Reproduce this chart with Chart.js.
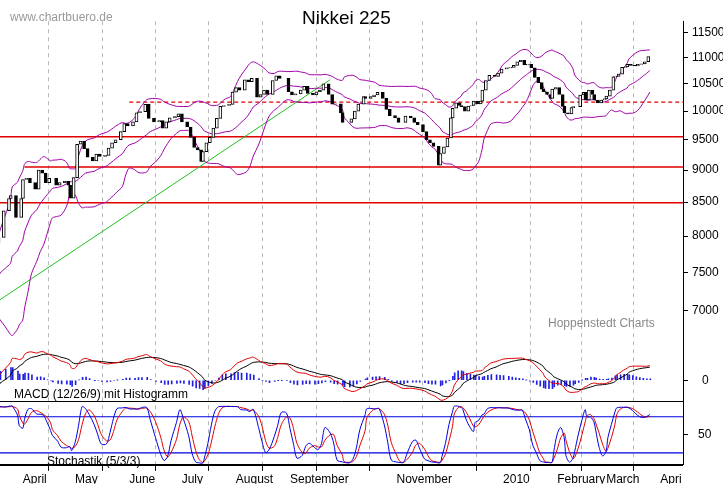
<!DOCTYPE html>
<html><head><meta charset="utf-8">
<script src="https://cdn.jsdelivr.net/npm/chart.js@4.4.1/dist/chart.umd.min.js"></script>
<style>
html,body{margin:0;background:#fff;}
#wrap{position:relative;width:723px;height:486px;}
.t{position:absolute;font-family:"Liberation Sans",Arial,sans-serif;white-space:nowrap;}
</style></head>
<body>
<div id="wrap">
<canvas id="c" width="723" height="486"></canvas>
<div class="t" style="left:10px;top:10px;font-size:12px;color:#9a9a9a">www.chartbuero.de</div>
<div class="t" style="left:302px;top:7px;font-size:19px;color:#000">Nikkei 225</div>
<div class="t" style="left:548px;top:316px;font-size:12px;color:#8a8a8a">Hoppenstedt Charts</div>
<div class="t" style="left:14px;top:387px;font-size:12px;color:#000">MACD (12/26/9) mit Histogramm</div>
<div class="t" style="left:47px;top:454px;font-size:12px;color:#000">Stochastik (5/3/3)</div>
</div>
<script>
// day numbers counted from 1 March 2009; negative = February warm-up
const days = [-26,-24,-21,-19,-17,-14,-12,-10,-7,-5,-3,0,2,4,6,8,9,11,12,15,16,17,
 18,21,24,25,28,29,31,32,34,36,39,41,43,45,47,48,51,53,56,58,59,61,63,65,67,69,72,74,76,79,81,83,85,88,90,92,95,97,99,
 102,104,107,110,112,114,116,119,121,123,126,128,130,132,134,135,137,139,141,143,145,147,150,152,154,156,159,161,163,166,
 168,170,172,175,177,179,182,184,186,188,191,193,195,198,200,202,204,207,209,211,214,215,218,220,222,
 224,227,228,231,233,235,238,240,242,245,247,249,251,254,256,258,261,263,265,267,270,271,273,275,277,278,280,282,283,285,
 287,289,290,292,294,295,297,299,302,304,306,309,311,313,315,317,319,321,323,325,327,329,330,332,334,335,337,339,341,342,
 344,346,347,349,351,353,354,356,358,359,361,363,365,366,368,370,371,373,375,377,378,380,382,384,386,388,390];
const closes = [7950,7900,7650,7750,7600,7550,7450,7550,7400,7450,7600,7280,7230,7430,7380,7090,7055,7200,7570,7700,7950,7900,
 7980,8370,8555,8600,8270,8270,8555,8850,8870,8800,8700,9000,8950,8800,8870,8870,8760,8800,8820,8760,8560,8880,9425,9480,9350,9210,9150,9260,9220,9240,9360,9450,9500,9640,9780,9740,9810,9970,9990,
 10120,9870,9810,9830,9700,9810,9880,9900,9950,9810,9720,9540,9370,9330,9140,9300,9450,9540,9700,9870,10085,10100,10120,10345,10430,10380,10575,10540,10600,10250,
 10300,10380,10300,10560,10650,10600,10600,10350,10290,10310,10380,10450,10320,10290,10350,10380,10500,10300,10125,10130,9970,9800,9800,9860,10000,
 10125,10260,10230,10260,10290,10340,10230,10030,9920,9880,9800,9800,9910,9880,9800,9760,9640,9500,9450,9390,9080,9270,9380,9530,9880,10050,10150,10100,10080,10000,
 10090,10100,10180,10130,10180,10380,10560,10660,10640,10700,10780,10800,10810,10850,10920,10950,10860,10870,10800,10620,10520,10400,10350,10300,10230,10400,10430,10300,10085,9970,
 9950,10060,10080,10080,10290,10340,10200,10380,10300,10200,10145,10200,10220,10270,10380,10630,10640,10680,10810,10820,10870,10850,10840,10870,10880,10920,11020];
const monthDays = [31,61,92,122,153,184,214,245,275,306,337,365,396];
const monthNames = ['April','May','June','July','August','September','','November','','2010','February','March','Apri'];
const priceTicks = [7000,7500,8000,8500,9000,9500,10000,10500,11000,11500];
const supportLevels = [9550,9050,8490];
const supportFrom = [18,32,18];
const resistanceLevel = 10160, resistanceFrom = 92;
const trendDays = [18,207], trendValues = [7140,10575];
const X0 = 18, X1 = 409;

// indicators computed from the closes (sample spacing ~ 1.4 trading days)
function sma(a,n,i){let s=0;for(let k=i-n+1;k<=i;k++)s+=a[k];return s/n;}
const bbN=14, upper=[], middle=[], lower=[];
closes.forEach((c,i)=>{
  if(i<bbN-1){upper.push(null);middle.push(null);lower.push(null);return;}
  const m=sma(closes,bbN,i);let v=0;for(let k=i-bbN+1;k<=i;k++)v+=(closes[k]-m)**2;
  const sd=Math.sqrt(v/bbN);middle.push(m);upper.push(m+2*sd);lower.push(m-2*sd);
});
function ema(a,n){const k=2/(n+1);const o=[];a.forEach((v,i)=>o.push(i?v*k+o[i-1]*(1-k):v));return o;}
const e12=ema(closes,9), e26=ema(closes,19);
const macd=closes.map((c,i)=>e12[i]-e26[i]);
const signal=ema(macd,7);
const hist=macd.map((m,i)=>m-signal[i]);
const kRaw=closes.map((c,i)=>{const s=closes.slice(Math.max(0,i-5),i+1);const lo=Math.min(...s)*0.998,hi=Math.max(...s)*1.002;return 100*(c-lo)/(hi-lo);});
const kS=kRaw.map((v,i)=>i>1?(v+kRaw[i-1]+kRaw[i-2])/3:v);
const dS=kS.map((v,i)=>i>1?(v+kS[i-1]+kS[i-2])/3:v);

const pts=a=>days.map((d,i)=>({x:d,y:a[i]}));
const candles=days.map((d,i)=>({x:d,y:[i?closes[i-1]:closes[i],closes[i]]}));
const up=closes.map((c,i)=>i===0||c>=closes[i-1]);

const mAbs=Math.max(...macd.map(Math.abs),...hist.map(Math.abs));
const mk=mAbs/30;

const datasets=[
 {type:'bar',data:candles,yAxisID:'yP',backgroundColor:up.map(u=>u?'#fff':'#000'),borderColor:'#000',borderWidth:1,borderSkipped:false,barThickness:3,order:1},
 {type:'line',data:pts(upper),yAxisID:'yP',borderColor:'#a000a8',borderWidth:1,pointRadius:0,tension:0.3,order:3},
 {type:'line',data:pts(middle),yAxisID:'yP',borderColor:'#a000a8',borderWidth:1,pointRadius:0,tension:0.3,order:3},
 {type:'line',data:pts(lower),yAxisID:'yP',borderColor:'#a000a8',borderWidth:1,pointRadius:0,tension:0.3,order:3},
 {type:'line',data:trendDays.map((d,i)=>({x:d,y:trendValues[i]})),yAxisID:'yP',borderColor:'#22c022',borderWidth:1,pointRadius:0,order:4},
 {type:'line',data:[{x:resistanceFrom,y:resistanceLevel},{x:X1,y:resistanceLevel}],yAxisID:'yP',borderColor:'#e00000',borderWidth:1.2,borderDash:[4,3],pointRadius:0,order:4},
 ...supportLevels.map((v,i)=>({type:'line',data:[{x:supportFrom[i],y:v},{x:X1,y:v}],yAxisID:'yP',borderColor:'#e00000',borderWidth:1.5,pointRadius:0,order:4})),
 {type:'bar',data:pts(hist),yAxisID:'yM',backgroundColor:'#2020e0',barThickness:1,order:3},
 {type:'line',data:pts(signal),yAxisID:'yM',borderColor:'#000',borderWidth:1,pointRadius:0,tension:0.3,order:2},
 {type:'line',data:pts(macd),yAxisID:'yM',borderColor:'#e00000',borderWidth:1,pointRadius:0,tension:0.3,order:1},
 {type:'line',data:[{x:X0,y:80},{x:X1,y:80}],yAxisID:'yS',borderColor:'#0000e0',borderWidth:1.2,pointRadius:0,order:4},
 {type:'line',data:[{x:X0,y:20},{x:X1,y:20}],yAxisID:'yS',borderColor:'#0000e0',borderWidth:1.2,pointRadius:0,order:4},
 {type:'line',data:pts(dS),yAxisID:'yS',borderColor:'#e00000',borderWidth:1,pointRadius:0,tension:0.3,order:2},
 {type:'line',data:pts(kS),yAxisID:'yS',borderColor:'#0000e0',borderWidth:1,pointRadius:0,tension:0.3,order:1},
];

const font={family:'"Liberation Sans",Arial,sans-serif',size:12};
const sep={id:'sep',afterDraw(ch){const c=ch.ctx,a=ch.chartArea;c.save();c.strokeStyle='#000';c.lineWidth=1;
 [ch.scales.yS.top,ch.scales.yS.bottom].forEach(y=>{c.beginPath();c.moveTo(a.left,Math.round(y)+0.5);c.lineTo(a.right,Math.round(y)+0.5);c.stroke();});c.restore();}};

new Chart(document.getElementById('c'),{
 data:{datasets},
 plugins:[sep],
 options:{responsive:false,animation:false,layout:{padding:0},
  plugins:{legend:{display:false},tooltip:{enabled:false}},
  scales:{
   x:{type:'linear',min:X0,max:X1,offset:false,
     afterBuildTicks:s=>{s.ticks=monthDays.map(v=>({value:v}));},
     afterFit:s=>{s.height=19;},
     ticks:{autoSkip:false,maxRotation:0,align:'start',padding:2,color:'#000',font,callback:(v,i)=>monthNames[i]},
     grid:{color:'#b8b8b8',tickLength:6,tickColor:'#000'},
     border:{display:true,color:'#000',dash:[4,4]}},
   yP:{type:'logarithmic',position:'right',stack:'p',stackWeight:345,min:6540,max:11740,
     afterBuildTicks:s=>{s.ticks=priceTicks.map(v=>({value:v}));},
     afterFit:s=>{s.width=40;},
     ticks:{color:'#000',font,padding:4,callback:v=>String(v)},
     grid:{drawOnChartArea:false,tickLength:5,color:'#000'},border:{color:'#000'}},
   yM:{type:'linear',position:'right',stack:'p',stackWeight:55,min:-22*mk,max:33*mk,
     afterBuildTicks:s=>{s.ticks=[{value:0}];},afterFit:s=>{s.width=40;},
     ticks:{color:'#000',font,padding:14,callback:()=>'0'},
     grid:{drawOnChartArea:false,tickLength:5,color:'#000'},border:{color:'#000'}},
   yS:{type:'linear',position:'right',stack:'p',stackWeight:67,min:0,max:106,
     afterBuildTicks:s=>{s.ticks=[{value:50}];},afterFit:s=>{s.width=40;},
     ticks:{color:'#000',font,padding:10,callback:()=>'50'},
     grid:{drawOnChartArea:false,tickLength:5,color:'#000'},border:{color:'#000'}}
  }}
});
</script>
</body></html>
